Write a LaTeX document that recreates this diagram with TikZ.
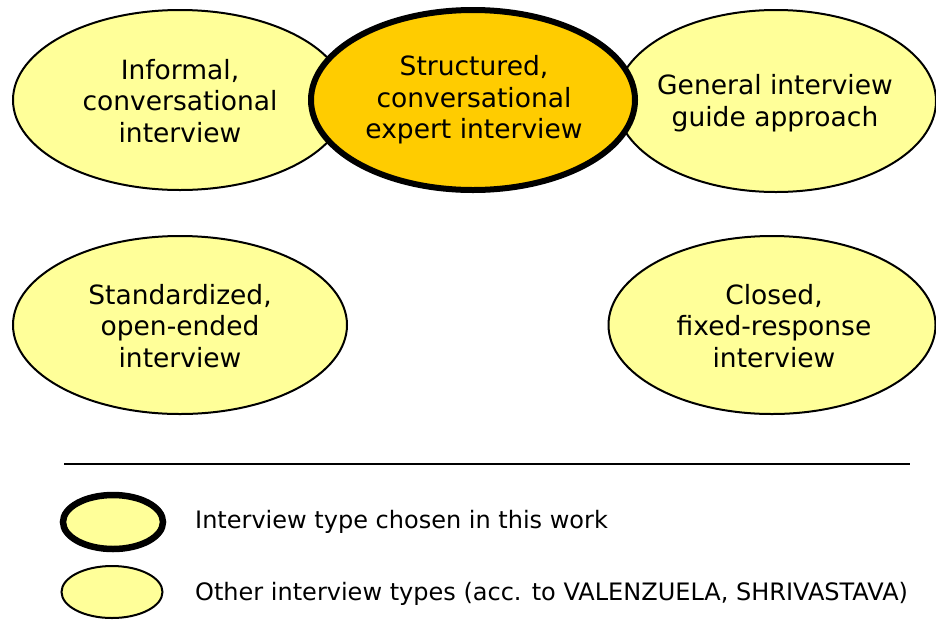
\documentclass[tikz,border=0pt]{standalone}
\usepackage{fontspec}
\setmainfont{DejaVu Sans}
\usetikzlibrary{shapes.geometric}
\definecolor{lightyel}{HTML}{FFFF99}
\definecolor{goldyel}{HTML}{FFCC00}
\tikzset{
  ell/.style={ellipse, draw=black, line width=2pt, fill=lightyel, inner sep=0pt},
  chosen/.style={ellipse, draw=black, line width=6pt, fill=goldyel, inner sep=0pt},
  lbl/.style={align=center, font=\fontsize{26.5}{31.5}\selectfont, inner sep=0pt},
  legtxt/.style={anchor=west, font=\fontsize{24}{26}\selectfont, inner sep=0pt},
}
\begin{document}
\begin{tikzpicture}[x=1pt,y=-1pt]
\useasboundingbox (0,0) rectangle (936,619);
% top row
\node[ell, minimum width=334pt, minimum height=180pt] (inf) at (180,100) {};
\node[ell, minimum width=320pt, minimum height=182pt] (gen) at (776,101) {};
\node[chosen, minimum width=324pt, minimum height=180pt] (str) at (473,100) {};
\node[lbl] (infT) at (180,101) {Informal,\\conversational\\interview};
\node[lbl] (strT) at (474,100) {Structured,\\conversational\\expert interview};
\node[lbl] (genT) at (775,103) {General interview\\guide approach};
% second row
\node[ell, minimum width=334pt, minimum height=178pt] (std) at (180,325) {};
\node[ell, minimum width=327pt, minimum height=178pt] (clo) at (772,325) {};
\node[lbl] (stdT) at (180,326) {Standardized,\\open-ended\\interview};
\node[lbl] (cloT) at (774,326) {Closed,\\fixed-response\\interview};
% separator
\coordinate (l1) at (64,464);
\coordinate (l2) at (910,464);
\draw[line width=1.3pt] (l1) -- (l2);
% legend
\node[ellipse, draw=black, line width=6.5pt, fill=lightyel, inner sep=0pt, minimum width=100pt, minimum height=54pt] (lg1) at (113,522) {};
\node[ell, minimum width=101pt, minimum height=52pt] (lg2) at (112,592) {};
\node[legtxt] (lt1) at (195,522) {Interview type chosen in this work};
\node[legtxt] (lt2) at (195,594) {Other interview types (acc. to VALENZUELA, SHRIVASTAVA)};
\end{tikzpicture}
\end{document}
